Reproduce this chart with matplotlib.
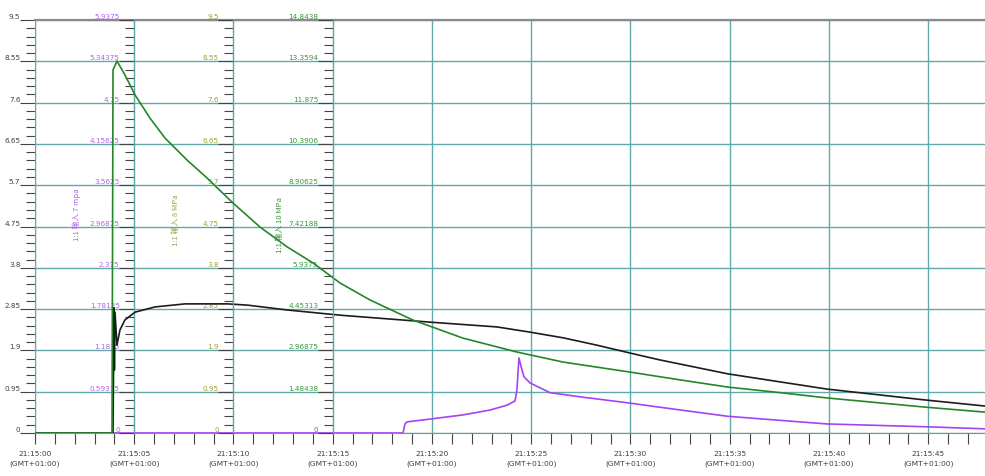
import matplotlib
matplotlib.use("Agg")
import matplotlib.pyplot as plt
from matplotlib.ticker import MultipleLocator, AutoMinorLocator, FuncFormatter

# seconds after 21:15:00
t_green = [0, 3.88, 3.93, 4.13, 4.53, 5.04, 5.79, 6.55, 7.66, 8.66, 9.97, 11.34,
           12.70, 14.01, 15.37, 16.88, 19.04, 21.56, 24.28, 26.60, 29.97, 32.49,
           34.91, 37.68, 39.90, 44.84, 47.86]
p_green = [0, 0, 13.05, 13.37, 12.87, 12.15, 11.32, 10.60, 9.81, 9.17, 8.27, 7.40,
           6.69, 6.11, 5.39, 4.78, 4.06, 3.41, 2.91, 2.55, 2.19, 1.91,
           1.65, 1.44, 1.26, 0.93, 0.75]

t_black = [0, 3.93, 3.98, 4.00, 4.03, 4.13, 4.28, 4.53, 5.04, 6.05, 7.56, 9.72,
           10.73, 12.70, 15.37, 19.90, 23.27, 24.94, 26.60, 28.31, 29.97, 31.49,
           34.91, 39.90, 44.84, 47.86]
p_black = [0, 0, 2.88, 1.45, 2.78, 2.02, 2.37, 2.60, 2.78, 2.90, 2.97, 2.97,
           2.94, 2.83, 2.71, 2.55, 2.44, 2.32, 2.19, 2.02, 1.84, 1.68,
           1.36, 1.01, 0.76, 0.62]

t_purple = [0, 18.54, 18.64, 18.74, 19.90, 21.56, 22.92, 23.78, 24.18, 24.28,
            24.38, 24.53, 24.63, 24.94, 25.94, 27.46, 29.97, 31.49, 34.91, 39.90,
            44.84, 47.86]
p_purple = [0, 0, 0.13, 0.16, 0.20, 0.26, 0.33, 0.40, 0.46, 0.62,
            1.08, 0.91, 0.81, 0.72, 0.58, 0.52, 0.43, 0.37, 0.24, 0.13,
            0.09, 0.06]

left_labels = ["0", "0.95", "1.9", "2.85", "3.8", "4.75", "5.7", "6.65", "7.6", "8.55", "9.5"]
purple_labels = ["0", "0.59375", "1.1875", "1.78125", "2.375", "2.96875", "3.5625",
                 "4.15625", "4.75", "5.34375", "5.9375"]
olive_labels = left_labels
green_labels = ["0", "1.48438", "2.96875", "4.45313", "5.9375", "7.42188", "8.90625",
                "10.3906", "11.875", "13.3594", "14.8438"]
x_tick_labels = ["21:15:00", "21:15:05", "21:15:10", "21:15:15", "21:15:20",
                 "21:15:25", "21:15:30", "21:15:35", "21:15:40", "21:15:45"]
tz_label = "(GMT+01:00)"

CJK = ["Noto Sans CJK SC", "DejaVu Sans"]
GRID = "#62a9a9"
TICK = "#454545"

fig = plt.figure(figsize=(9.85, 4.76), dpi=100)
ax = fig.add_axes([35 / 985, 43 / 476, 950 / 985, 413 / 476])
ax.set_xlim(0, 47.86)
ax.set_ylim(0, 9.5)


def style_y(a, labels, ymax, color):
    a.set_ylim(0, ymax)
    step = ymax / (len(labels) - 1)
    a.set_yticks([i * step for i in range(len(labels))], labels)
    a.yaxis.set_minor_locator(AutoMinorLocator(5))
    a.tick_params(axis="y", which="major", direction="out", length=10.5, width=0.8,
                  color=TICK, pad=0, labelsize=5.2, labelcolor=color)
    a.tick_params(axis="y", which="minor", direction="out", length=6.5, width=0.8,
                  color=TICK)
    for tk in a.yaxis.get_major_ticks():
        tk.label1.set_verticalalignment("bottom")


style_y(ax, left_labels, 9.5, "#404040")
ax.xaxis.set_major_locator(MultipleLocator(5))
ax.xaxis.set_minor_locator(MultipleLocator(1))
ax.xaxis.set_major_formatter(FuncFormatter(
    lambda v, pos: f"{x_tick_labels[int(round(v / 5))]}\n{tz_label}"
    if 0 <= int(round(v / 5)) < len(x_tick_labels) else ""))
ax.tick_params(axis="x", which="both", direction="out", length=8, width=0.8,
               color=TICK, pad=5, labelsize=5.4, labelcolor="#404040")
for lb in ax.get_xticklabels():
    lb.set_linespacing(1.6)
ax.grid(True, which="major", color=GRID, linewidth=1.0)
ax.set_axisbelow(True)
ax.spines["right"].set_visible(False)
ax.spines["left"].set_color(GRID)
ax.spines["top"].set_color("#8a8a8a")
ax.spines["top"].set_linewidth(1.6)
ax.spines["bottom"].set_color("#8a8a8a")


def extra_axis(ymax, labels, color, xpos, title, lx, ly):
    a = ax.twinx()
    for s in ("right", "top", "bottom"):
        a.spines[s].set_visible(False)
    a.spines["left"].set_position(("data", xpos))
    a.spines["left"].set_color(GRID)
    a.yaxis.set_ticks_position("left")
    style_y(a, labels, ymax, color)
    a.text(lx, ly, title, transform=a.transAxes, rotation=90, ha="center",
           va="center", color=color, fontsize=5.6, family=CJK)
    return a


ax_p = extra_axis(5.9375, purple_labels, "#b462e8", 5, "1:1 输入 7 mpa", 0.0442, 0.528)
ax_o = extra_axis(9.5, olive_labels, "#a0a03a", 10, "1:1 输入 8 MPa", 0.148, 0.516)
ax_g = extra_axis(14.8438, green_labels, "#3c963c", 15, "1:1 输入 10 MPa", 0.258, 0.504)

ax_p.plot(t_purple, p_purple, color="#a443f2", linewidth=1.2)
ax_g.plot(t_green, p_green, color="#24862a", linewidth=1.2)
ax_o.plot(t_black, p_black, color="#1c1c1c", linewidth=1.2)

fig.savefig("out.png", dpi=100)
